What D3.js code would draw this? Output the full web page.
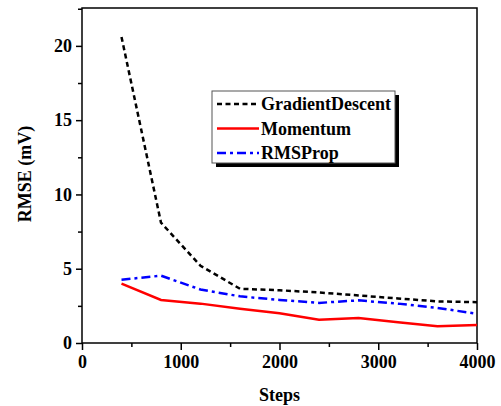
<!DOCTYPE html>
<html>
<head>
<meta charset="utf-8">
<script src="https://cdn.jsdelivr.net/npm/d3@7"></script>
<style>
  body { margin: 0; background: #fff; }
  svg text { font-family: "Times New Roman", "Liberation Serif", Times, "DejaVu Serif", serif; font-weight: bold; }
</style>
</head>
<body>
<script>
// steps where each optimizer was evaluated
var steps = [400, 800, 1200, 1600, 2000, 2400, 2800, 3200, 3600, 4000];

// RMSE values (mV)
var gradientDescent = [20.6, 8.1, 5.2, 3.65, 3.55, 3.4, 3.2, 3.0, 2.8, 2.75];
var momentum = [4.0, 2.9, 2.65, 2.3, 2.0, 1.57, 1.68, 1.4, 1.12, 1.21];
var rmsProp = [4.26, 4.53, 3.6, 3.14, 2.9, 2.7, 2.87, 2.65, 2.36, 1.97];

var seriesNames = ['GradientDescent', 'Momentum', 'RMSProp'];
var xTicks = [0, 1000, 2000, 3000, 4000];
var yTicks = [0, 5, 10, 15, 20];

var width = 501, height = 406;
var margin = {top: 8, right: 24, bottom: 63, left: 82};

var svg = d3.select('body').append('svg')
  .attr('width', width)
  .attr('height', height);

var x = d3.scaleLinear().domain([0, 4000]).range([margin.left, width - margin.right]);
var y = d3.scaleLinear().domain([0, 22.55]).range([height - margin.bottom, margin.top]);

// axes: major ticks labelled, minor ticks halfway between
var xAxis = d3.axisBottom(x).tickValues(xTicks).tickSize(7).tickPadding(5).tickFormat(d3.format('d'));
var xMinor = d3.axisBottom(x).tickValues(d3.range(500, 4000, 1000)).tickSize(4).tickFormat('');
var yAxis = d3.axisLeft(y).tickValues(yTicks).tickSize(6).tickPadding(4);
var yMinor = d3.axisLeft(y).tickValues([2.5, 7.5, 12.5, 17.5, 22.5]).tickSize(4).tickFormat('');

function styleAxis(g) {
  g.attr('font-family', null).attr('font-size', null);
  g.select('.domain').remove();
  g.selectAll('line').attr('stroke', '#000').attr('stroke-width', 1.5);
  g.selectAll('text').attr('font-size', 18).attr('fill', '#000');
}

svg.append('g').attr('transform', 'translate(0,' + y(0) + ')').call(xAxis).call(styleAxis);
svg.append('g').attr('transform', 'translate(0,' + y(0) + ')').call(xMinor).call(styleAxis);
svg.append('g').attr('transform', 'translate(' + x(0) + ',0)').call(yAxis).call(styleAxis);
svg.append('g').attr('transform', 'translate(' + x(0) + ',0)').call(yMinor).call(styleAxis);

// frame around the plot area
svg.append('rect')
  .attr('x', x(0)).attr('y', margin.top)
  .attr('width', x(4000) - x(0)).attr('height', y(0) - margin.top)
  .attr('fill', 'none').attr('stroke', '#000').attr('stroke-width', 1.5);

// axis titles
svg.append('text')
  .attr('x', (x(0) + x(4000)) / 2).attr('y', 401)
  .attr('text-anchor', 'middle').attr('font-size', 18)
  .text('Steps');

svg.append('text')
  .attr('transform', 'translate(31,' + 174 + ') rotate(-90)')
  .attr('text-anchor', 'middle').attr('font-size', 18)
  .text('RMSE (mV)');

// series lines
var line = d3.line()
  .x(function(d, i) { return x(steps[i]); })
  .y(function(d) { return y(d); });

var series = [
  {name: seriesNames[0], values: gradientDescent, color: '#000', dash: '5,3.5'},
  {name: seriesNames[1], values: momentum, color: '#ff0000', dash: null},
  {name: seriesNames[2], values: rmsProp, color: '#0000ff', dash: '9,4,3,4'}
];

svg.selectAll('.series')
  .data(series)
  .enter().append('path')
  .attr('class', 'series')
  .attr('d', function(d) { return line(d.values); })
  .attr('fill', 'none')
  .attr('stroke', function(d) { return d.color; })
  .attr('stroke-width', 2.5)
  .attr('stroke-dasharray', function(d) { return d.dash; });

// legend with drop shadow
var legend = svg.append('g');
legend.append('rect')
  .attr('x', 216).attr('y', 95).attr('width', 183).attr('height', 72)
  .attr('fill', '#000');
legend.append('rect')
  .attr('x', 212).attr('y', 91).attr('width', 183).attr('height', 72)
  .attr('fill', '#fff').attr('stroke', '#555').attr('stroke-width', 1);

var rows = legend.selectAll('.row')
  .data(series)
  .enter().append('g')
  .attr('transform', function(d, i) { return 'translate(0,' + (104 + i * 24.5) + ')'; });

rows.append('line')
  .attr('x1', 217).attr('x2', 259)
  .attr('stroke', function(d) { return d.color; })
  .attr('stroke-width', 2.5)
  .attr('stroke-dasharray', function(d) { return d.dash; });

rows.append('text')
  .attr('x', 261).attr('y', 6)
  .attr('font-size', 18)
  .text(function(d) { return d.name; });
</script>
</body>
</html>
